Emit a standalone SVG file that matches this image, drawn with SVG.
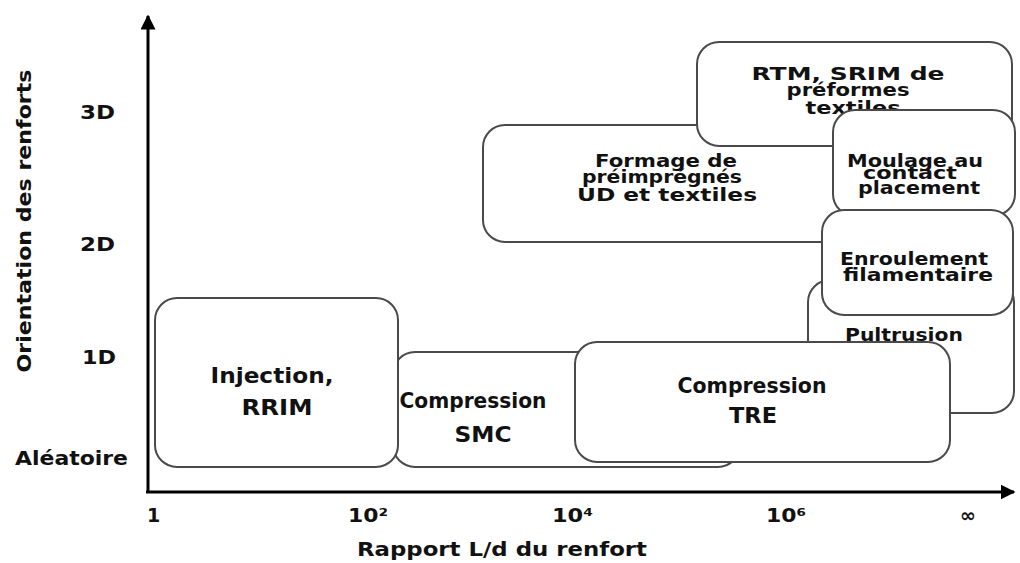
<svg xmlns="http://www.w3.org/2000/svg" width="1020" height="563" viewBox="0 0 1020 563">
<defs>
<marker id="arr" viewBox="0 0 10 10" refX="9" refY="5" markerWidth="5" markerHeight="5" orient="auto" markerUnits="strokeWidth">
<path d="M0,0 L10,5 L0,10 z" fill="#000"/>
</marker>
<style>
.box{fill:#fff;stroke:#4a4a4a;stroke-width:2}
.t{font-family:"DejaVu Sans","Liberation Sans",sans-serif;font-weight:bold;font-size:21px;fill:#111;text-anchor:middle}
.m{font-family:"DejaVu Sans","Liberation Sans",sans-serif;font-weight:bold;font-size:18px;fill:#111;text-anchor:middle}
.lab{font-family:"DejaVu Sans","Liberation Sans",sans-serif;font-weight:bold;font-size:19px;fill:#111}
.ax{stroke:#000;stroke-width:3;fill:none}
</style>
</defs>
<rect width="1020" height="563" fill="#fff"/>
<g id="axes">
<line class="ax" x1="148" y1="492" x2="148" y2="16" marker-end="url(#arr)"/>
<line class="ax" x1="146" y1="492" x2="1014" y2="492" marker-end="url(#arr)"/>
</g>
<g id="labels">
<text class="lab" x="80" y="119" textLength="35" lengthAdjust="spacingAndGlyphs">3D</text>
<text class="lab" x="80" y="251" textLength="35" lengthAdjust="spacingAndGlyphs">2D</text>
<text class="lab" x="82" y="364" textLength="34" lengthAdjust="spacingAndGlyphs">1D</text>
<text class="lab" x="15" y="465" textLength="113" lengthAdjust="spacingAndGlyphs">Aléatoire</text>
<text class="lab" transform="translate(31,221) rotate(-90)" text-anchor="middle" textLength="303" lengthAdjust="spacingAndGlyphs">Orientation des renforts</text>
<text class="lab" x="147" y="522">1</text>
<text class="lab" x="348" y="522" textLength="40" lengthAdjust="spacingAndGlyphs">10²</text>
<text class="lab" x="552" y="522" textLength="41" lengthAdjust="spacingAndGlyphs">10⁴</text>
<text class="lab" x="766" y="522" textLength="40" lengthAdjust="spacingAndGlyphs">10⁶</text>
<text class="lab" x="960" y="522">∞</text>
<text class="lab" x="357" y="556" textLength="290" lengthAdjust="spacingAndGlyphs">Rapport L/d du renfort</text>
</g>
<g id="formage">
<rect class="box" x="483" y="125" width="360" height="117" rx="22"/>
<text class="m" x="666" y="167" textLength="142" lengthAdjust="spacingAndGlyphs">Formage de</text>
<text class="m" x="662" y="183" textLength="160" lengthAdjust="spacingAndGlyphs">préimprégnés</text>
<text class="m" x="667" y="201" textLength="180" lengthAdjust="spacingAndGlyphs">UD et textiles</text>
</g>
<g id="rtm">
<rect class="box" x="697" y="42" width="315" height="104" rx="22"/>
<text class="m" x="848" y="80" textLength="193" lengthAdjust="spacingAndGlyphs">RTM, SRIM de</text>
<text class="m" x="848" y="96" textLength="123" lengthAdjust="spacingAndGlyphs">préformes</text>
<text class="m" x="853" y="114" textLength="95" lengthAdjust="spacingAndGlyphs">textiles</text>
</g>
<g id="moulage">
<rect class="box" x="833" y="110" width="182" height="106" rx="22"/>
<text class="m" x="915" y="167" textLength="136" lengthAdjust="spacingAndGlyphs">Moulage au</text>
<text class="m" x="910" y="179" textLength="94" lengthAdjust="spacingAndGlyphs">contact</text>
<text class="m" x="919" y="194" textLength="122" lengthAdjust="spacingAndGlyphs">placement</text>
</g>
<g id="pultrusion">
<rect class="box" x="808" y="280" width="206" height="133" rx="22"/>
<text class="m" x="904" y="341" textLength="118" lengthAdjust="spacingAndGlyphs">Pultrusion</text>
</g>
<g id="enroulement">
<rect class="box" x="822" y="210" width="191" height="105" rx="22"/>
<text class="m" x="914" y="265" textLength="148" lengthAdjust="spacingAndGlyphs">Enroulement</text>
<text class="m" x="918" y="281" textLength="150" lengthAdjust="spacingAndGlyphs">filamentaire</text>
</g>
<g id="smc">
<rect class="box" x="393" y="352" width="347" height="115" rx="22"/>
<text class="t" x="473" y="408" textLength="147" lengthAdjust="spacingAndGlyphs">Compression</text>
<text class="t" x="483" y="442" textLength="57" lengthAdjust="spacingAndGlyphs">SMC</text>
</g>
<g id="injection">
<rect class="box" x="155" y="298" width="243" height="169" rx="22"/>
<text class="t" x="272" y="383" textLength="123" lengthAdjust="spacingAndGlyphs">Injection,</text>
<text class="t" x="277" y="415" textLength="71" lengthAdjust="spacingAndGlyphs">RRIM</text>
</g>
<g id="tre">
<rect class="box" x="575" y="342" width="375" height="120" rx="22"/>
<text class="t" x="752" y="393" textLength="149" lengthAdjust="spacingAndGlyphs">Compression</text>
<text class="t" x="753" y="423" textLength="48" lengthAdjust="spacingAndGlyphs">TRE</text>
</g>
</svg>
